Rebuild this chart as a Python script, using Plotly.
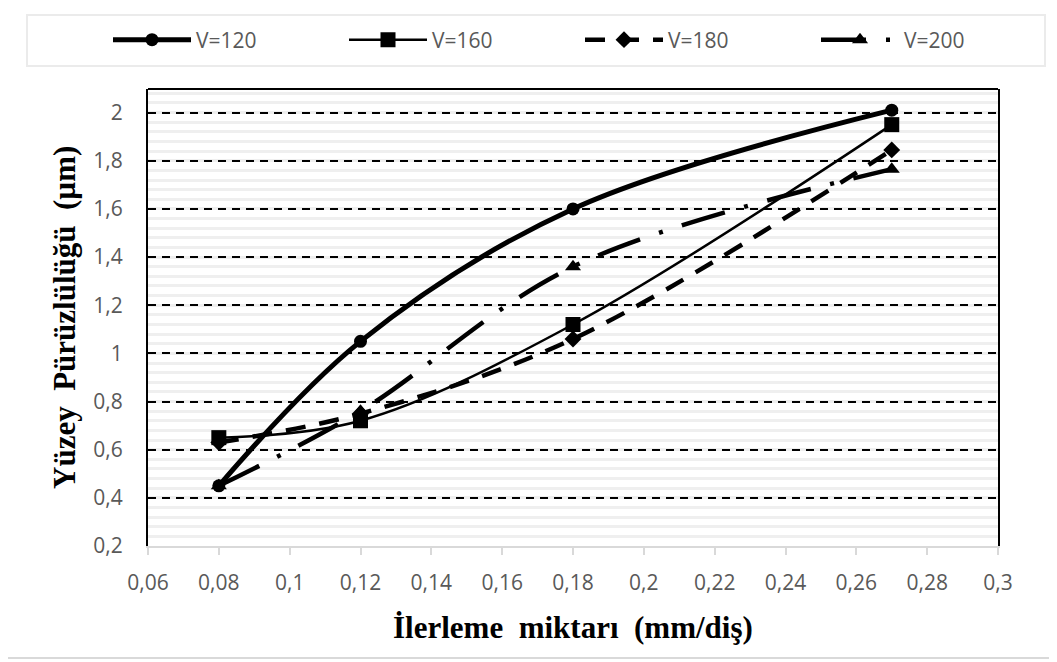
import plotly.graph_objects as go

# ---- data ----
feed = [0.08, 0.12, 0.18, 0.27]
v120 = [0.45, 1.05, 1.60, 2.01]
v160 = [0.65, 0.72, 1.12, 1.95]
v180 = [0.63, 0.75, 1.06, 1.845]
v200 = [0.45, 0.76, 1.36, 1.765]
series_names = ["V=120", "V=160", "V=180", "V=200"]

x_tickvals = [0.06, 0.08, 0.10, 0.12, 0.14, 0.16, 0.18, 0.20, 0.22, 0.24, 0.26, 0.28, 0.30]
x_ticktext = ["0,06", "0,08", "0,1", "0,12", "0,14", "0,16", "0,18", "0,2", "0,22", "0,24", "0,26", "0,28", "0,3"]
y_tickvals = [0.2, 0.4, 0.6, 0.8, 1.0, 1.2, 1.4, 1.6, 1.8, 2.0]
y_ticktext = ["0,2", "0,4", "0,6", "0,8", "1", "1,2", "1,4", "1,6", "1,8", "2"]

x_title = "İlerleme\u00a0\u00a0miktarı\u00a0\u00a0(mm/diş)"
y_title = "Yüzey\u00a0\u00a0Pürüzlülüğü\u00a0\u00a0(µm)"

# page body has an 8px default margin: compensate so screen coords match
OFF = 8
SW, SH = 1057, 662
W, H = SW - OFF, SH - OFF
# plot area in screen coords: left 148, right 998, top 89, bottom 546
L, R, T, B = 148 - OFF, SW - 998, 89 - OFF, SH - 546
pw, ph = W - L - R, H - T - B

def px_to_paper_x(px):  # px in screen coords
    return (px - OFF - L) / pw

def px_to_paper_y(py):
    return (H - B - (py - OFF)) / ph

fig = go.Figure()

styles = [
    dict(line=dict(color="black", width=5, shape="spline", smoothing=1.0),
         marker=dict(symbol="circle", size=13, color="black")),
    dict(line=dict(color="black", width=2.5, shape="spline", smoothing=1.0),
         marker=dict(symbol="square", size=15, color="black")),
    dict(line=dict(color="black", width=4.5, shape="spline", smoothing=1.0, dash="20px,14px"),
         marker=dict(symbol="diamond", size=13, color="black")),
    dict(line=dict(color="black", width=4.5, shape="spline", smoothing=1.0, dash="45px,20px,4px,20px"),
         marker=dict(symbol="triangle-up", size=14, color="black")),
]

for name, ys, st in zip(series_names, [v120, v160, v180, v200], styles):
    fig.add_trace(go.Scatter(x=feed, y=ys, name=name, mode="lines+markers",
                             line=st["line"], marker=st["marker"]))

tick_font = dict(family="Open Sans", size=21, color="#595959")
title_font = dict(family="Liberation Serif", size=31, color="black")

fig.update_layout(
    width=W, height=H,
    margin=dict(l=L, r=R, t=T, b=B, autoexpand=False),
    paper_bgcolor="white", plot_bgcolor="white",
    showlegend=True,
    legend=dict(orientation="h", x=px_to_paper_x(108), xanchor="left",
                y=px_to_paper_y(40), yanchor="middle",
                font=dict(family="Open Sans", size=21, color="#595959"),
                itemwidth=78, entrywidth=143, entrywidthmode="pixels",
                bgcolor="rgba(0,0,0,0)", borderwidth=0,
                tracegroupgap=0, itemclick=False),
    xaxis=dict(range=[0.06, 0.30], tickvals=x_tickvals, ticktext=x_ticktext,
               showgrid=False, zeroline=False,
               showline=True, linecolor="#d9d9d9", linewidth=2,
               ticks="outside", ticklen=7, tickcolor="#d9d9d9", tickwidth=2,
               tickfont=tick_font, ticklabelstandoff=10),
    yaxis=dict(range=[0.2, 2.098], tickvals=y_tickvals, ticktext=y_ticktext,
               showgrid=True, gridcolor="black", gridwidth=1.5, griddash="8px,6px",
               minor=dict(dtick=0.04, tick0=0.2, showgrid=True, gridcolor="#efefef",
                          gridwidth=2.5, griddash="solid"),
               zeroline=False,
               showline=True, linecolor="black", linewidth=2, mirror=True,
               ticks="", tickfont=tick_font, ticklabelstandoff=19),
    shapes=[
        dict(type="line", xref="paper", yref="paper", x0=0, x1=1, y0=1, y1=1,
             line=dict(color="black", width=2)),
        dict(type="rect", xref="paper", yref="paper",
             x0=px_to_paper_x(27), x1=px_to_paper_x(1045),
             y0=px_to_paper_y(66), y1=px_to_paper_y(15),
             line=dict(color="#ebebeb", width=2), layer="below"),
        dict(type="line", xref="paper", yref="paper",
             x0=px_to_paper_x(1054), x1=px_to_paper_x(1054),
             y0=px_to_paper_y(658), y1=px_to_paper_y(OFF),
             line=dict(color="#d9d9d9", width=2), layer="below"),
        dict(type="line", xref="paper", yref="paper",
             x0=px_to_paper_x(OFF), x1=px_to_paper_x(1054),
             y0=px_to_paper_y(658), y1=px_to_paper_y(658),
             line=dict(color="#d9d9d9", width=2), layer="below"),
    ],
    annotations=[
        dict(text="<b>" + x_title + "</b>", xref="paper", yref="paper",
             x=px_to_paper_x(573), y=px_to_paper_y(627), xanchor="center", yanchor="middle",
             showarrow=False, font=title_font),
        dict(text="<b>" + y_title + "</b>", xref="paper", yref="paper",
             x=px_to_paper_x(64), y=px_to_paper_y(318), xanchor="center", yanchor="middle",
             textangle=-90, showarrow=False, font=title_font),
    ],
)

fig.write_html("out.html")
